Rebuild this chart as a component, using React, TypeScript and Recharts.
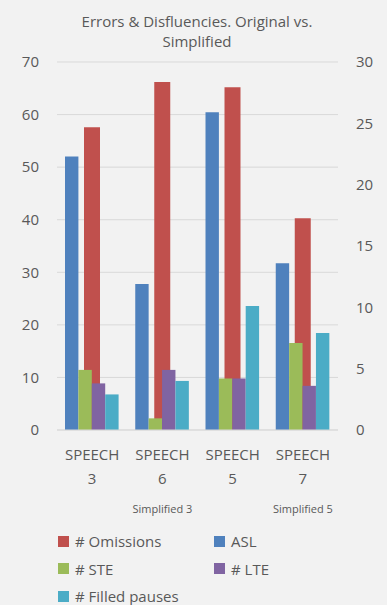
import React from 'react';
import { BarChart, Bar, XAxis, YAxis, CartesianGrid, Legend } from 'recharts';

const categories = ['SPEECH 3', 'SPEECH 6', 'SPEECH 5', 'SPEECH 7'];
const subLabels = ['', 'Simplified 3', '', 'Simplified 5'];
const omissions = [57.6, 66.2, 65.2, 40.3];
const asl = [22.3, 11.9, 25.9, 13.6];
const ste = [4.9, 0.95, 4.2, 7.1];
const lte = [3.8, 4.9, 4.2, 3.6];
const filledPauses = [2.9, 4.0, 10.1, 7.9];
const leftTicks = [0, 10, 20, 30, 40, 50, 60, 70];
const rightTicks = [0, 5, 10, 15, 20, 25, 30];

const legendItems = [
  { name: '# Omissions', color: '#c0504d' },
  { name: 'ASL', color: '#4f81bd' },
  { name: '# STE', color: '#9bbb59' },
  { name: '# LTE', color: '#8064a2' },
  { name: '# Filled pauses', color: '#4bacc6' },
];

const data = categories.map((c, i) => ({
  cat: c,
  sub: subLabels[i],
  omissions: omissions[i],
  asl: asl[i],
  ste: ste[i],
  lte: lte[i],
  fp: filledPauses[i],
}));

const FONT = '"Open Sans", "Noto Sans", sans-serif';
const GRAY = '#595959';

const XTick = (props: any) => {
  const { x, y, payload, index } = props;
  const parts = String(payload.value).split(' ');
  const sub = subLabels[index] || '';
  return (
    <g>
      <text x={x} y={y + 30} textAnchor="middle" fill={GRAY} fontSize={15} fontFamily={FONT}>
        {parts[0]}
      </text>
      <text x={x} y={y + 54} textAnchor="middle" fill={GRAY} fontSize={15} fontFamily={FONT}>
        {parts[1]}
      </text>
      {sub ? (
        <text x={x} y={y + 83} textAnchor="middle" fill={GRAY} fontSize={11} fontFamily={FONT}>
          {sub}
        </text>
      ) : null}
    </g>
  );
};

const LegendContent = () => {
  const rows = [
    [legendItems[0], legendItems[1]],
    [legendItems[2], legendItems[3]],
    [legendItems[4]],
  ];
  return (
    <div style={{ height: 85, position: 'relative', fontFamily: FONT, fontSize: 15, color: GRAY }}>
      {rows.map((row, r) =>
        row.map((it, c) => (
          <div
            key={it.name}
            style={{
              position: 'absolute',
              left: c === 0 ? 58 : 214,
              top: 12 + r * 27.5,
              display: 'flex',
              alignItems: 'center',
              height: 18,
              lineHeight: '18px',
              whiteSpace: 'nowrap',
            }}
          >
            <span style={{ display: 'inline-block', width: 11, height: 11, background: it.color, marginRight: 6 }} />
            <span>{it.name}</span>
          </div>
        ))
      )}
    </div>
  );
};

export default function App() {
  return (
    <div style={{ position: 'absolute', left: 0, top: 0, width: 387, height: 605, background: '#f2f2f2' }}>
      <BarChart
        width={387}
        height={605}
        data={data}
        margin={{ top: 62, right: 0, bottom: 0, left: 0 }}
        barGap={0}
      >
        <text x={197} y={27} textAnchor="middle" fill={GRAY} fontSize={15} fontFamily={FONT}>
          Errors &amp; Disfluencies. Original vs.
        </text>
        <text x={197} y={47} textAnchor="middle" fill={GRAY} fontSize={15} fontFamily={FONT}>
          Simplified
        </text>
        <CartesianGrid vertical={false} stroke="#d9d9d9" yAxisId="left" xAxisId="a" />
        <XAxis
          xAxisId="a"
          dataKey="cat"
          height={90}
          tickSize={0}
          tickMargin={0}
          axisLine={{ stroke: '#d9d9d9' }}
          tickLine={false}
          tick={<XTick />}
          interval={0}
        />
        <XAxis xAxisId="b" dataKey="cat" hide />
        <YAxis
          yAxisId="left"
          orientation="left"
          width={57}
          domain={[0, 70]}
          ticks={leftTicks}
          axisLine={false}
          tickLine={false}
          tickSize={0}
          tickMargin={18}
          tick={{ fill: GRAY, fontSize: 15, fontFamily: FONT }}
        />
        <YAxis
          yAxisId="right"
          orientation="right"
          width={49}
          domain={[0, 30]}
          ticks={rightTicks}
          axisLine={false}
          tickLine={false}
          tickSize={0}
          tickMargin={18}
          tick={{ fill: GRAY, fontSize: 15, fontFamily: FONT, textAnchor: 'start' }}
        />
        <Legend verticalAlign="bottom" content={<LegendContent />} />
        <Bar xAxisId="b" yAxisId="left" dataKey="omissions" name="# Omissions" fill="#c0504d" barSize={16} isAnimationActive={false} />
        <Bar xAxisId="a" yAxisId="right" dataKey="asl" name="ASL" fill="#4f81bd" barSize={13.4} isAnimationActive={false} />
        <Bar xAxisId="a" yAxisId="right" dataKey="ste" name="# STE" fill="#9bbb59" barSize={13.4} isAnimationActive={false} />
        <Bar xAxisId="a" yAxisId="right" dataKey="lte" name="# LTE" fill="#8064a2" barSize={13.4} isAnimationActive={false} />
        <Bar xAxisId="a" yAxisId="right" dataKey="fp" name="# Filled pauses" fill="#4bacc6" barSize={13.4} isAnimationActive={false} />
      </BarChart>
    </div>
  );
}
